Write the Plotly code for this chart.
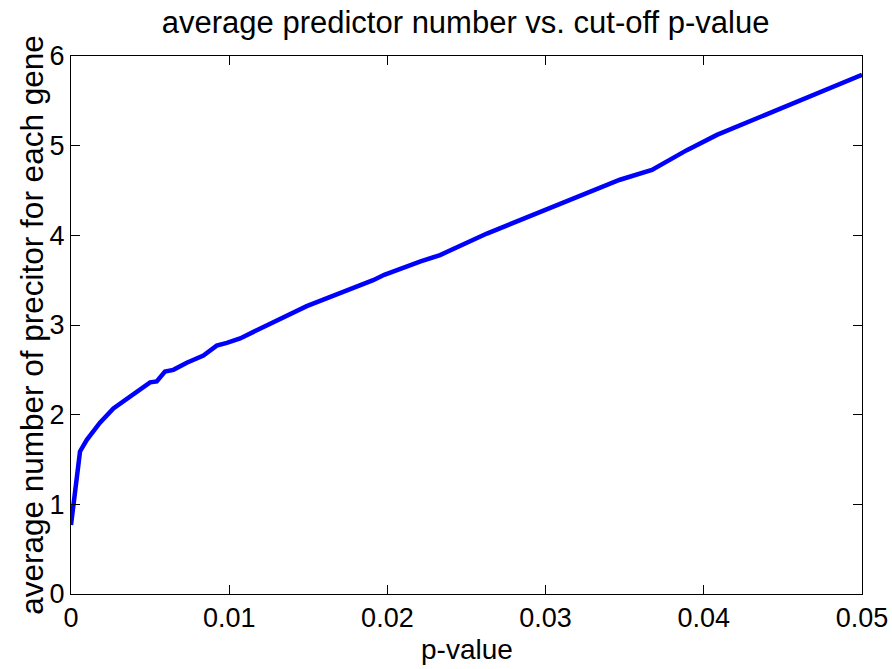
import plotly.graph_objects as go

p_values = [0.0, 0.00057, 0.001, 0.00183, 0.00268, 0.00394, 0.0050, 0.00542, 0.00594,
            0.00647, 0.00732, 0.00837, 0.00921, 0.00985, 0.01069, 0.01184, 0.0149,
            0.0191, 0.0198, 0.0221, 0.02333, 0.02629, 0.0284, 0.0305, 0.03324,
            0.0347, 0.03672, 0.03893, 0.04083, 0.04315, 0.04631, 0.05]
avg_predictors = [0.77, 1.59, 1.72, 1.91, 2.07, 2.22, 2.36, 2.37, 2.48,
                  2.50, 2.58, 2.66, 2.77, 2.80, 2.85, 2.95, 3.21,
                  3.50, 3.56, 3.71, 3.78, 4.02, 4.17, 4.32, 4.51,
                  4.62, 4.73, 4.95, 5.12, 5.29, 5.51, 5.79]

x_ticks = [0, 0.01, 0.02, 0.03, 0.04, 0.05]
x_tick_labels = ["0", "0.01", "0.02", "0.03", "0.04", "0.05"]
y_ticks = [0, 1, 2, 3, 4, 5, 6]

FONT = "Liberation Sans, Arial, sans-serif"

fig = go.Figure()
fig.add_trace(go.Scatter(x=p_values, y=avg_predictors, mode="lines",
                         line=dict(color="#0000FF", width=4.5), showlegend=False))

fig.update_layout(
    width=892, height=669,
    margin=dict(l=71, r=30, t=56, b=75, autoexpand=False),
    paper_bgcolor="white", plot_bgcolor="white",
    font=dict(family=FONT, color="black", size=27),
    title=dict(text="average predictor number vs. cut-off p-value",
               x=0.522, xanchor="center", y=0.967, yanchor="middle",
               font=dict(size=31, family=FONT, color="black")),
    annotations=[
        dict(text="p-value", xref="paper", yref="paper", x=0.5, y=-0.104,
             xanchor="center", yanchor="middle", showarrow=False,
             font=dict(size=28, family=FONT, color="black")),
        dict(text="average number of precitor for each gene", xref="paper", yref="paper",
             x=-0.0495, y=0.5, xanchor="center", yanchor="middle", textangle=-90,
             showarrow=False, font=dict(size=31.5, family=FONT, color="black")),
    ],
)
fig.update_xaxes(range=[0, 0.05], tickvals=x_ticks, ticktext=x_tick_labels,
                 ticks="inside", ticklen=9, tickwidth=1, tickcolor="black",
                 showline=True, linecolor="black", linewidth=1, mirror="ticks",
                 showgrid=False, zeroline=False, automargin=False,
                 tickfont=dict(size=27, family=FONT))
fig.update_yaxes(range=[0, 6], tickvals=y_ticks,
                 ticks="inside", ticklen=9, tickwidth=1, tickcolor="black",
                 showline=True, linecolor="black", linewidth=1, mirror="ticks",
                 showgrid=False, zeroline=False, automargin=False,
                 tickfont=dict(size=27, family=FONT))

fig.write_html("out.html")
